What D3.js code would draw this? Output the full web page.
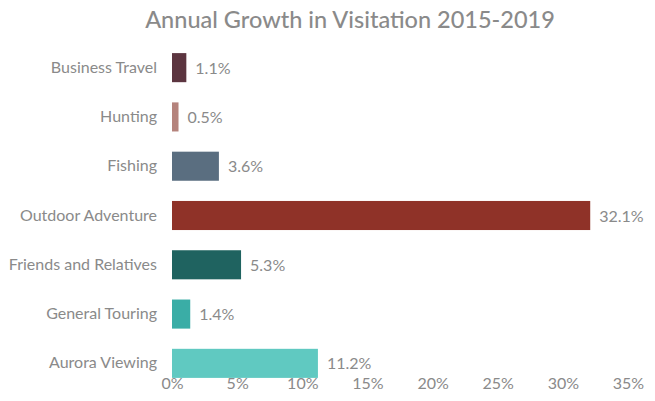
<!DOCTYPE html>
<html>
<head>
<meta charset="utf-8">
<script src="https://cdn.jsdelivr.net/npm/d3@7"></script>
<style>
  html, body { margin: 0; padding: 0; background: #ffffff; }
  svg { display: block; font-family: Lato, "Open Sans", sans-serif; }
</style>
</head>
<body>
<svg id="chart" width="655" height="401"></svg>
<script>
// Trip purposes, top to bottom
const categories = ["Business Travel", "Hunting", "Fishing", "Outdoor Adventure", "Friends and Relatives", "General Touring", "Aurora Viewing"];
// Annual growth, percent
const growth = [1.1, 0.5, 3.6, 32.1, 5.3, 1.4, 11.2];
const barColors = ["#5c3540", "#b5837c", "#5a6e80", "#8f3228", "#1f6360", "#3aada6", "#60c9c1"];
const xTicks = [0, 5, 10, 15, 20, 25, 30, 35];
const title = "Annual Growth in Visitation 2015-2019";

const svg = d3.select("#chart");
const textColor = "#8a8a8a";
const fontStack = "Lato, 'Open Sans', sans-serif";

const x = d3.scaleLinear().domain([0, 35]).range([172, 628]);
const y = d3.scaleBand().domain(categories).range([43, 388]).paddingInner(0.41).paddingOuter(0.205);

svg.append("text")
  .attr("x", 350).attr("y", 28)
  .attr("text-anchor", "middle")
  .attr("fill", textColor)
  .style("font-size", "23.5px")
  .style("font-weight", 500)
  .text(title);

// bars
svg.append("g").selectAll("rect")
  .data(categories)
  .join("rect")
  .attr("x", x(0))
  .attr("y", d => y(d))
  .attr("width", (d, i) => x(growth[i]) - x(0))
  .attr("height", y.bandwidth())
  .attr("fill", (d, i) => barColors[i]);

// value labels
svg.append("g").selectAll("text")
  .data(categories)
  .join("text")
  .attr("x", (d, i) => x(growth[i]) + 9)
  .attr("y", d => y(d) + y.bandwidth() / 2 + 2)
  .attr("dominant-baseline", "middle")
  .attr("fill", textColor)
  .style("font-size", "16px")
  .text((d, i) => growth[i].toFixed(1) + "%");

// category axis
const yAxis = svg.append("g")
  .attr("transform", "translate(166,0)")
  .call(d3.axisLeft(y).tickSize(0).tickPadding(9));
yAxis.select(".domain").remove();
yAxis.selectAll("text")
  .attr("fill", textColor)
  .style("font-size", "16px")
  .style("font-family", fontStack);

// value axis
const xAxis = svg.append("g")
  .attr("transform", "translate(0,375)")
  .call(d3.axisBottom(x).tickValues(xTicks).tickSize(0).tickPadding(3).tickFormat(d => d + "%"));
xAxis.select(".domain").remove();
xAxis.selectAll("text")
  .attr("fill", textColor)
  .style("font-size", "16px")
  .style("font-family", fontStack);
</script>
</body>
</html>
